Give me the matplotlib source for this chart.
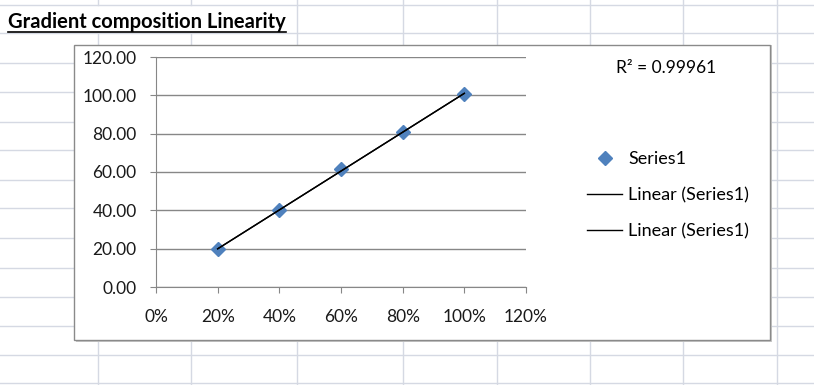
import numpy as np
import matplotlib.pyplot as plt
from matplotlib.lines import Line2D
from matplotlib.patches import Rectangle
from matplotlib.ticker import FuncFormatter

plt.rcParams['font.family'] = ['Lato', 'DejaVu Sans']

# gradient composition (fraction) vs measured response
composition = [0.2, 0.4, 0.6, 0.8, 1.0]
response    = [19.6, 40.0, 61.4, 80.8, 100.6]
r_squared   = "0.99961"

x_ticks = [0.0, 0.2, 0.4, 0.6, 0.8, 1.0, 1.2]
y_ticks = [0, 20, 40, 60, 80, 100, 120]

W, H = 814, 385
fig = plt.figure(figsize=(W / 100, H / 100), dpi=100)
fig.patch.set_facecolor('white')

def fx(px):
    return px / W

def fy(py):
    return 1 - py / H

# spreadsheet cell grid in the background
grid_col = '#d5d9e3'
for gx in [98, 191, 297, 403, 497, 590, 683, 777]:
    if gx < 290:
        # title text overflows the first cells, hiding their borders
        fig.add_artist(Line2D([fx(gx), fx(gx)], [fy(0), fy(5)], color=grid_col, lw=1, zorder=0))
        fig.add_artist(Line2D([fx(gx), fx(gx)], [fy(33), fy(H)], color=grid_col, lw=1, zorder=0))
    else:
        fig.add_artist(Line2D([fx(gx), fx(gx)], [0, 1], color=grid_col, lw=1, zorder=0))
for gy in [5, 33, 63, 92, 122, 150, 180, 208, 238, 268, 297, 326, 355, 383]:
    fig.add_artist(Line2D([0, 1], [fy(gy), fy(gy)], color=grid_col, lw=1, zorder=0))

# chart area box
fig.add_artist(Rectangle((fx(76), fy(342)), fx(770 - 74), (342 - 45) / H,
                         facecolor='#c8c8c8', edgecolor='none', zorder=1))
fig.add_artist(Rectangle((fx(74), fy(340)), fx(770 - 74), (340 - 45) / H,
                         facecolor='white', edgecolor='#8a8a8a', lw=1, zorder=2))

# title with underline
title = fig.text(fx(8), fy(28), "Gradient composition Linearity", fontsize=14.5,
                 fontweight='bold', va='baseline', ha='left', zorder=3)
fig.canvas.draw()
bb = title.get_window_extent()
fig.add_artist(Line2D([bb.x0 / W, bb.x1 / W], [fy(32), fy(32)], color='black', lw=1.2, zorder=3))

ax = fig.add_axes([fx(156), fy(287), fx(526 - 156), (287 - 57) / H], zorder=4)
ax.set_facecolor('none')

fit = np.polyfit(composition, response, 1)
fit_x = np.array([composition[0], composition[-1]])
fit_y = np.polyval(fit, fit_x)

pts, = ax.plot(composition, response, linestyle='none', marker='D', markersize=7,
               color='#4f81bd', markeredgecolor='#4f81bd', label='Series1', zorder=3)
lin1, = ax.plot(fit_x, fit_y, color='black', lw=1, label='Linear (Series1)', zorder=4)
lin2, = ax.plot(fit_x, fit_y, color='black', lw=1, label='Linear (Series1)', zorder=4)

ax.set_xlim(0, 1.2)
ax.set_ylim(0, 120)
ax.set_xticks(x_ticks)
ax.set_yticks(y_ticks)
ax.xaxis.set_major_formatter(FuncFormatter(lambda v, p: f"{v * 100:.0f}%"))
ax.yaxis.set_major_formatter(FuncFormatter(lambda v, p: f"{v:.2f}"))
ax.grid(axis='y', color='#878787', lw=1)
ax.set_axisbelow(True)
for s in ['top', 'right']:
    ax.spines[s].set_visible(False)
for s in ['left', 'bottom']:
    ax.spines[s].set_color('#878787')
ax.tick_params(axis='both', colors='#878787', labelcolor='#1a1a1a', labelsize=12.5, length=4)
ax.tick_params(axis='x', pad=12)
ax.tick_params(axis='y', pad=10)

fig.text(fx(616), fy(68), f"R\u00b2 = {r_squared}", fontsize=12.5, va='center', ha='left', zorder=5)

fig.legend(handles=[pts, lin1, lin2], loc='upper left', bbox_to_anchor=(fx(587), fy(151)),
           frameon=False, fontsize=13, handlelength=1.95, handletextpad=0.33,
           labelspacing=1.1, borderpad=0, borderaxespad=0)

fig.savefig('out.png', dpi=100)
